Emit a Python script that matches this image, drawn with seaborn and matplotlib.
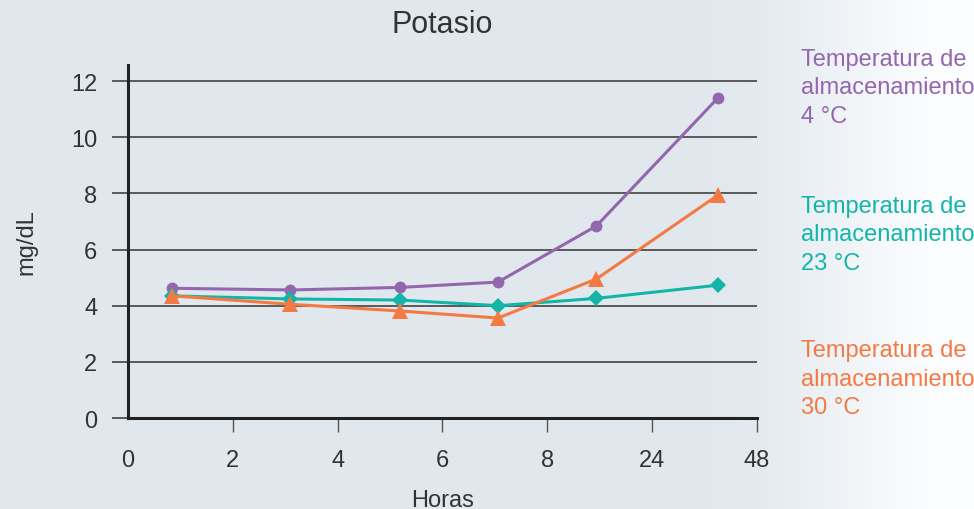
import numpy as np
import pandas as pd
import matplotlib
matplotlib.use("Agg")
import matplotlib.pyplot as plt
import seaborn as sns

# data (x in category units, ticks are evenly spaced)
tick_labels = ["0", "2", "4", "6", "8", "24", "48"]
x_pos = [0.42, 1.55, 2.6, 3.53, 4.47, 5.63]
k_4c = [4.62, 4.56, 4.65, 4.84, 6.84, 11.4]
k_23c = [4.35, 4.24, 4.2, 4.0, 4.26, 4.73]
k_30c = [4.35, 4.05, 3.81, 3.56, 4.95, 7.94]
series_names = ["Temperatura de\nalmacenamiento\n4 °C",
                "Temperatura de\nalmacenamiento\n23 °C",
                "Temperatura de\nalmacenamiento\n30 °C"]
colors = ["#9366ad", "#13b5a9", "#f47a43"]
markers = ["o", "D", "^"]
msizes = [8.5, 8.5, 11]

sns.set_style("white")
plt.rcParams["font.family"] = ["Liberation Sans", "DejaVu Sans"]
txt = "#333333"

fig = plt.figure(figsize=(9.74, 5.10), dpi=100)

# background gradient
bg = fig.add_axes([0, 0, 1, 1], zorder=-10)
xs = np.linspace(0, 1, 500)
t = np.clip((xs - 0.72) / 0.28, 0, 1)
t = t * t * (3 - 2 * t)
left_c = np.array([0.882, 0.910, 0.933])
row = left_c[None, :] * (1 - t[:, None]) + np.array([0.99, 0.995, 1.0])[None, :] * t[:, None]
bg.imshow(row[None, :, :], aspect="auto", extent=[0, 1, 0, 1])
bg.axis("off")

ax = fig.add_axes([0.1314, 0.1784, 0.777 - 0.1314, 0.8706 - 0.1784])
ax.patch.set_alpha(0)

df = pd.DataFrame({
    "x": x_pos * 3,
    "y": k_4c + k_23c + k_30c,
    "serie": [series_names[0]] * 6 + [series_names[1]] * 6 + [series_names[2]] * 6,
})

for i in [1, 2, 0]:
    sub = df[df["serie"] == series_names[i]]
    sns.lineplot(data=sub, x="x", y="y", ax=ax, color=colors[i], marker=markers[i],
                 markersize=msizes[i], markeredgewidth=0, linewidth=2.2,
                 zorder=3 + i, legend=False)

ax.set_xlim(0, 6)
ax.set_ylim(0, 12.57)
ax.set_yticks([0, 2, 4, 6, 8, 10, 12])
ax.set_xticks(range(7))
ax.set_xticklabels(tick_labels)

for yv in [2, 4, 6, 8, 10, 12]:
    ax.axhline(yv, color="#333333", lw=1.1, zorder=1)

for s in ["top", "right"]:
    ax.spines[s].set_visible(False)
for s in ["left", "bottom"]:
    ax.spines[s].set_color("#222222")
    ax.spines[s].set_linewidth(2.2)

ax.tick_params(axis="y", length=11.5, width=1.1, color="#333333", pad=10.5,
               labelsize=17, labelcolor=txt, left=True)
ax.tick_params(axis="x", length=10, width=1.0, color="#555555", pad=12,
               labelsize=17, labelcolor=txt, bottom=True)
ax.get_xticklines()[0].set_visible(False)

ax.set_xlabel("Horas", fontsize=17, color=txt, labelpad=13)
ax.set_ylabel("mg/dL", fontsize=17, color=txt, labelpad=24)
fig.text(0.454, 0.951, "Potasio", ha="center", va="center", fontsize=22, color=txt)

label_y = [0.827, 0.539, 0.255]
for i in range(3):
    fig.text(0.822, label_y[i], series_names[i], ha="left", va="center",
             fontsize=17, color=colors[i], linespacing=1.38)

fig.savefig("out.png", dpi=100)
